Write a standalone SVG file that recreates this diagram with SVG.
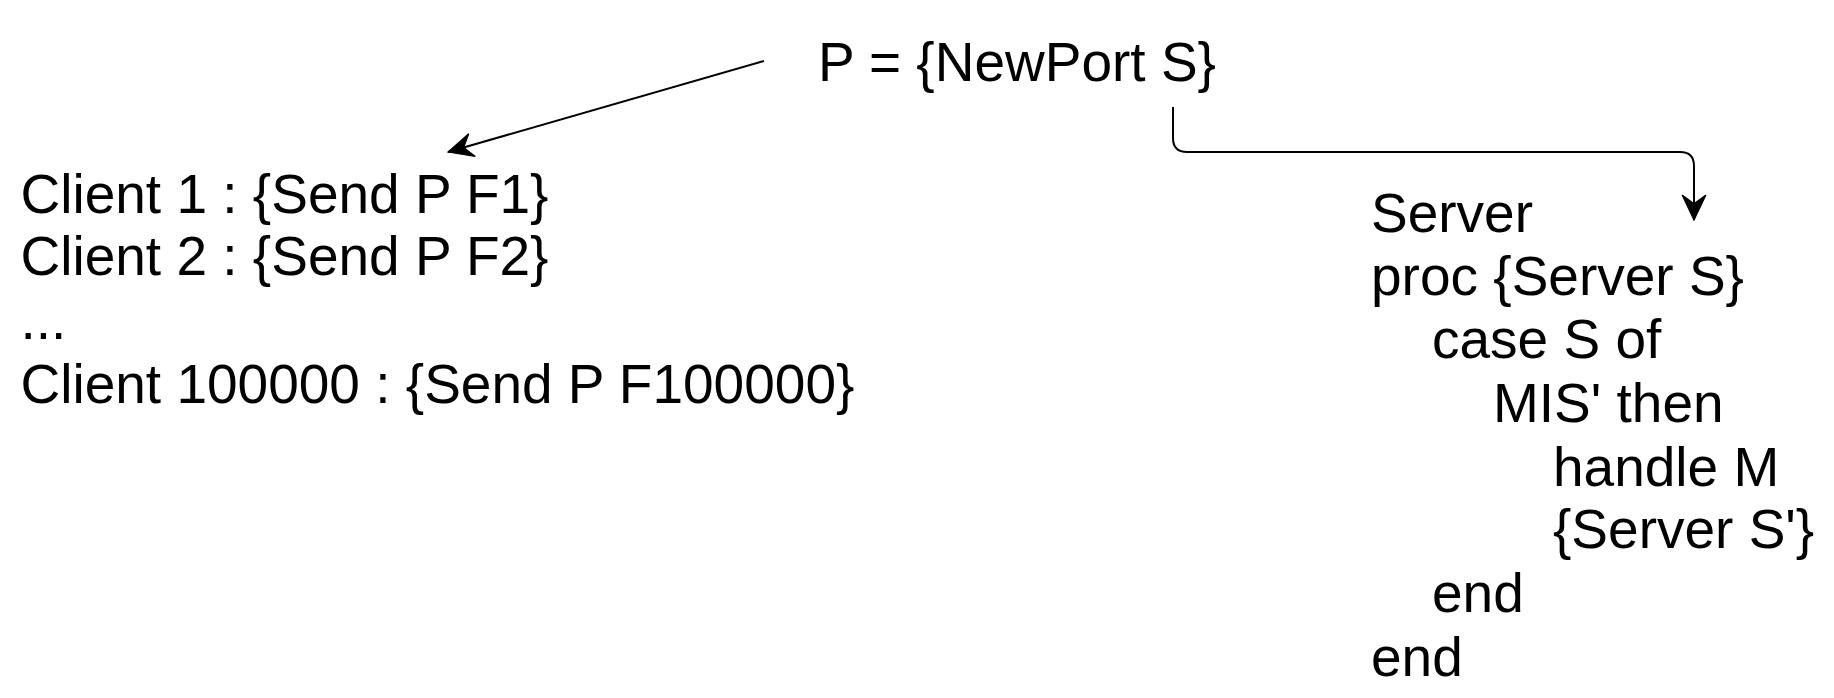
<svg xmlns="http://www.w3.org/2000/svg" width="1834" height="698" viewBox="0 0 1834 698">
  <style>
    .t { font-family: "Liberation Sans", Arial, Helvetica, sans-serif; font-size: 55px; fill: #000; }
    .c { fill: none; stroke: #000; stroke-width: 2; }
  </style>
  <defs>
    <marker id="arr" markerUnits="userSpaceOnUse" markerWidth="30" markerHeight="30" viewBox="-22 -12 24 24" refX="0" refY="0" orient="auto">
      <path d="M0,0 L-20,-9.5 L-13,0 L-20,9.5 Z" fill="#000" stroke="#000" stroke-width="1"/>
    </marker>
  </defs>
  <rect width="1834" height="698" fill="#fff"/>

  <g id="connectors">
    <path class="c" d="M764,61 L448,152" marker-end="url(#arr)"/>
    <path class="c" d="M1173,107 V138 Q1173,152 1187,152 H1680 Q1694,152 1694,166 V220" marker-end="url(#arr)"/>
  </g>

  <g id="port">
    <text class="t" x="818" y="81">P = {NewPort S}</text>
  </g>

  <g id="clients">
    <text class="t" x="20.5" y="213">Client 1 : {Send P F1}</text>
    <text class="t" x="20.5" y="275">Client 2 : {Send P F2}</text>
    <text class="t" x="20.5" y="339">...</text>
    <text class="t" x="20.5" y="403">Client 100000 : {Send P F100000}</text>
  </g>

  <g id="server">
    <text class="t" x="1371" y="232">Server</text>
    <text class="t" x="1371" y="295">proc {Server S}</text>
    <text class="t" x="1432" y="358">case S of</text>
    <text class="t" x="1493" y="422">MIS' then</text>
    <text class="t" x="1553" y="486">handle M</text>
    <text class="t" x="1553" y="548">{Server S'}</text>
    <text class="t" x="1432" y="612">end</text>
    <text class="t" x="1371" y="676">end</text>
  </g>
</svg>
